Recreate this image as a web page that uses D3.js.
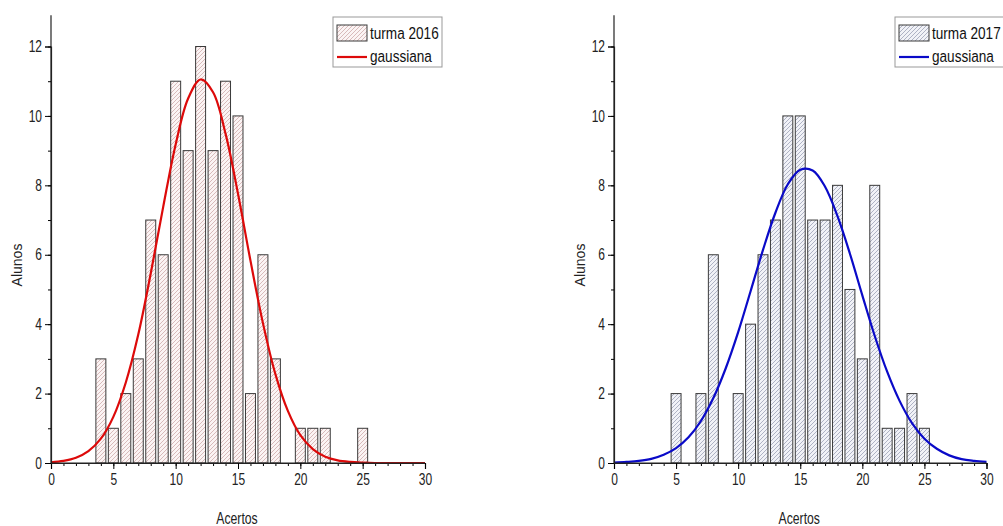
<!DOCTYPE html>
<html>
<head>
<meta charset="utf-8">
<style>
  body { margin: 0; background: #fff; }
  text { font-family: "Liberation Sans", Arial, sans-serif; }
</style>
<script src="https://cdnjs.cloudflare.com/ajax/libs/d3/7.8.5/d3.min.js"></script>
</head>
<body>
<svg width="1003" height="526"></svg>
<script>
// histogram data (acertos -> alunos)
var acertos2016 = [4, 5, 6, 7, 8, 9, 10, 11, 12, 13, 14, 15, 16, 17, 18, 20, 21, 22, 25];
var alunos2016  = [3, 1, 2, 3, 7, 6, 11, 9, 12, 9, 11, 10, 2, 6, 3, 1, 1, 1, 1];

var acertos2017 = [5, 7, 8, 10, 11, 12, 13, 14, 15, 16, 17, 18, 19, 20, 21, 22, 23, 24, 25];
var alunos2017  = [2, 2, 6, 2, 4, 6, 7, 10, 10, 7, 7, 8, 5, 3, 8, 1, 1, 2, 1];

// gaussian curves, values at each integer
var curveX = [0, 1, 2, 3, 4, 5, 6, 7, 8, 9, 10, 11, 12, 13, 14, 15,
              16, 17, 18, 19, 20, 21, 22, 23, 24, 25, 26, 27, 28, 29, 30];
var gauss2016 = [0.02, 0.06, 0.15, 0.34, 0.7, 1.33, 2.32, 3.7, 5.46, 7.38, 9.18, 10.5, 11.05, 10.68, 9.49, 7.76,
                 5.83, 4.03, 2.56, 1.5, 0.8, 0.4, 0.18, 0.075, 0.03, 0.01, 0, 0, 0, 0, 0];
var gauss2017 = [0.01, 0.03, 0.06, 0.12, 0.24, 0.43, 0.74, 1.21, 1.87, 2.73, 3.77, 4.95, 6.14, 7.21, 8.03, 8.45,
                 8.43, 7.96, 7.11, 6.03, 4.83, 3.66, 2.63, 1.79, 1.15, 0.7, 0.41, 0.22, 0.11, 0.06, 0.03];

var xTicks = [0, 5, 10, 15, 20, 25, 30];
var yTicks = [0, 2, 4, 6, 8, 10, 12];

var TICKSQ = 0.75; // no narrow font installed, squeeze instead

var svg = d3.select("svg");
var defs = svg.append("defs");

function hatch(id, bg, fg) {
  var p = defs.append("pattern")
      .attr("id", id)
      .attr("patternUnits", "userSpaceOnUse")
      .attr("width", 4).attr("height", 4);
  p.append("rect").attr("width", 4).attr("height", 4).attr("fill", bg);
  p.append("path")
      .attr("d", "M0,4 L4,0 M-1,1 L1,-1 M3,5 L5,3")
      .attr("stroke", fg).attr("stroke-width", 0.7);
}
hatch("h2016", "#fbf4f4", "#c9a0a0");
hatch("h2017", "#f1f2f7", "#9096ad");

// squeezed text at (x,y)
function ntext(sel, x, y, str, size, sq) {
  return sel.append("text")
    .attr("transform", "translate(" + x + "," + y + ") scale(" + sq + ",1)")
    .attr("font-size", size)
    .attr("fill", "#222")
    .text(str);
}

function panel(o) {
  var x = d3.scaleLinear().domain([0, 30]).range([o.left, o.right]);
  var y = d3.scaleLinear().domain([0, 12]).range([463, 46.5]);
  var g = svg.append("g");

  // bars
  var bw = x(0.8) - x(0);
  g.selectAll(".bar")
    .data(o.xs)
    .enter().append("rect")
    .attr("x", function(d) { return x(d) - bw / 2; })
    .attr("y", function(d, i) { return y(o.ys[i]); })
    .attr("width", bw)
    .attr("height", function(d, i) { return y(0) - y(o.ys[i]); })
    .attr("fill", "url(#" + o.pat + ")")
    .attr("stroke", "#3a3a3a")
    .attr("stroke-width", 1);

  // gaussian
  var line = d3.line()
    .x(function(d) { return x(d); })
    .y(function(d, i) { return y(o.curve[i]); })
    .curve(d3.curveCatmullRom);
  g.append("path")
    .attr("d", line(curveX))
    .attr("fill", "none")
    .attr("stroke", o.color)
    .attr("stroke-width", 2.2);

  // axes
  var xAxis = g.append("g").attr("transform", "translate(0," + y(0) + ")");
  xAxis.call(d3.axisBottom(x).tickValues(d3.range(0, 31)).tickSize(3).tickFormat(""));
  xAxis.append("g").call(d3.axisBottom(x).tickValues(xTicks).tickSize(6).tickPadding(5));
  xAxis.select(".domain").attr("d", "M" + x(0) + ",0H" + x(30));
  xAxis.selectAll("path").attr("stroke", "#222");
  xAxis.selectAll("text").attr("font-size", 16).attr("fill", "#222")
    .attr("transform", "scale(" + TICKSQ + ",1)");

  var yAxis = g.append("g").attr("transform", "translate(" + x(0) + ",0)");
  yAxis.call(d3.axisLeft(y).tickValues(d3.range(0, 13)).tickSize(3).tickFormat(""));
  yAxis.append("g").call(d3.axisLeft(y).tickValues(yTicks).tickSize(6).tickPadding(4));
  yAxis.select(".domain").attr("d", "M-0,463V" + y(12.9));
  yAxis.selectAll("path").attr("stroke", "#222");
  yAxis.selectAll("text").attr("font-size", 16).attr("fill", "#222")
    .attr("x", -9 / TICKSQ)
    .attr("transform", "scale(" + TICKSQ + ",1)");
  g.selectAll(".domain").attr("stroke-width", 1.2);

  // titles
  ntext(g, (x(0) + x(30)) / 2 - 1, 524, "Acertos", 17, 0.72).attr("text-anchor", "middle");
  g.append("text")
    .attr("transform", "translate(" + (x(0) - 29) + ",265) rotate(-90)")
    .attr("text-anchor", "middle")
    .attr("font-size", 14)
    .attr("fill", "#222")
    .text("Alunos");

  // legend
  var lg = g.append("g").attr("transform", "translate(" + o.legX + ",17)");
  lg.append("rect")
    .attr("x", 0).attr("y", 0)
    .attr("width", 109).attr("height", 50)
    .attr("fill", "#fff").attr("stroke", "#999");
  lg.append("rect")
    .attr("x", 4).attr("y", 8)
    .attr("width", 30).attr("height", 16)
    .attr("fill", "url(#" + o.pat + ")").attr("stroke", "#3a3a3a");
  ntext(lg, 37, 22, o.label, 17, 0.8).attr("fill", "#111");
  lg.append("line")
    .attr("x1", 4).attr("x2", 34).attr("y1", 40).attr("y2", 40)
    .attr("stroke", o.color).attr("stroke-width", 2.2);
  ntext(lg, 37, 45, "gaussiana", 17, 0.8).attr("fill", "#111");
}

panel({ left: 51, right: 425, xs: acertos2016, ys: alunos2016, curve: gauss2016,
        pat: "h2016", color: "#dd0a0a", label: "turma 2016", legX: 333 });
panel({ left: 614, right: 986.5, xs: acertos2017, ys: alunos2017, curve: gauss2017,
        pat: "h2017", color: "#0a0ac8", label: "turma 2017", legX: 895 });
</script>
</body>
</html>
